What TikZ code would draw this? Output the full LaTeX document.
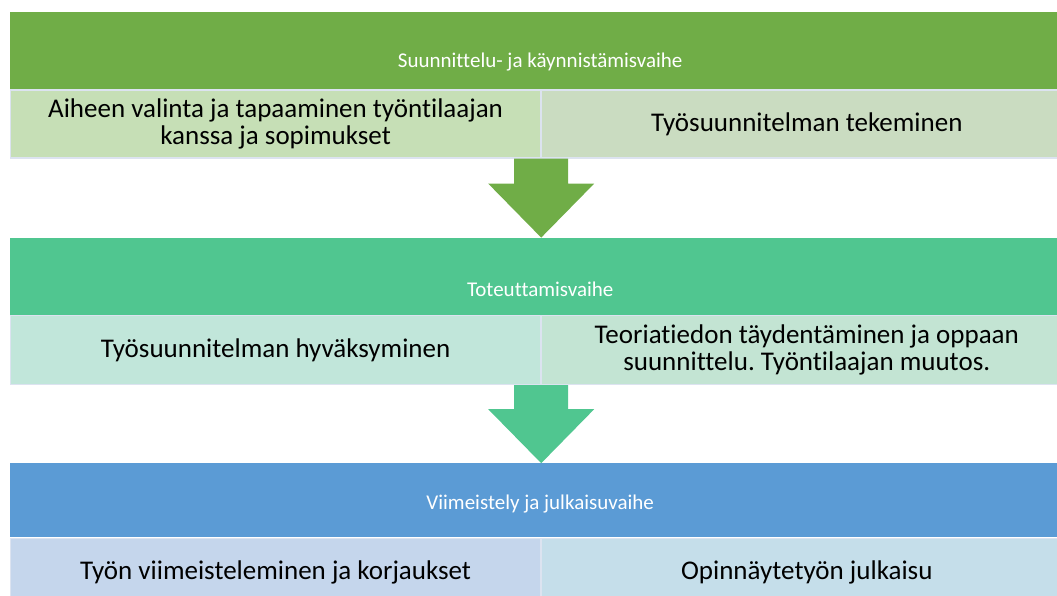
\documentclass[tikz,border=0pt]{standalone}
\usepackage{fontspec}
\setmainfont{Carlito}[Ligatures={NoCommon}]
\frenchspacing
\usetikzlibrary{positioning, calc}

\definecolor{planGreen}{HTML}{70AD47}
\definecolor{planLeft}{HTML}{C6DFB6}
\definecolor{planRight}{HTML}{CADCC1}
\definecolor{buildTeal}{HTML}{50C690}
\definecolor{buildLeft}{HTML}{C1E6DA}
\definecolor{buildRight}{HTML}{C3E4D3}
\definecolor{finBlue}{HTML}{5B9BD5}
\definecolor{finLeft}{HTML}{C5D6EC}
\definecolor{finRight}{HTML}{C5DEEA}
\definecolor{boxEdge}{HTML}{DCE3F0}

\begin{document}
\begin{tikzpicture}[x=1pt, y=1pt,
		band/.style={rectangle, minimum width=1060pt, minimum height=77pt, inner sep=0pt, anchor=north west},
		task/.style={rectangle, draw=boxEdge, line width=1.2pt, minimum width=530pt, minimum height=68pt,
			inner sep=0pt, align=center, font=\fontsize{27}{27}\selectfont, anchor=north west},
		phase/.style={text=white, inner sep=0pt, font=\fontsize{21}{24}\selectfont}]
		\clip (0,0) rectangle (1057,595);
		
		% Vaihe 1: suunnittelu
		\node[band, fill=planGreen] (plan) at (10,583) {};
		\node[phase] (planT) at ($(plan.south)+(0,27)$) {Suunnittelu- ja käynnistämisvaihe};
		\node[task, fill=planLeft] (plan1) at (plan.south west) {Aiheen valinta ja tapaaminen työntilaajan\\kanssa ja sopimukset};
		\node[task, fill=planRight] (plan2) at (plan1.north east) {Työsuunnitelman tekeminen};
		
		% Vaihe 2: toteutus
		\node[band, fill=buildTeal] (build) at ($(plan1.south west)+(0,-79)$) {};
		\node[phase] (buildT) at ($(build.south)+(0,26)$) {Toteuttamisvaihe};
		\node[task, fill=buildLeft, minimum height=69pt] (build1) at (build.south west) {Työsuunnitelman hyväksyminen};
		\node[task, fill=buildRight, minimum height=69pt] (build2) at (build1.north east) {Teoriatiedon täydentäminen ja oppaan\\suunnittelu. Työntilaajan muutos.};
		
		% Vaihe 3: viimeistely
		\node[band, fill=finBlue, minimum height=74pt] (fin) at ($(build1.south west)+(0,-78)$) {};
		\node[phase] (finT) at ($(fin.south)+(0,34)$) {Viimeistely ja julkaisuvaihe};
		\node[task, fill=finLeft] (fin1) at (fin.south west) {Työn viimeisteleminen ja korjaukset};
		\node[task, fill=finRight] (fin2) at (fin1.north east) {Opinnäytetyön julkaisu};
		
		% nuolet vaiheiden välillä
		\fill[planGreen] ($(plan1.south east)+(-27,0)$) -- ++(0,-25) -- ++(-26,0)
		-- (plan1.south east |- build.north) -- ++(53,54) -- ++(-26,0) -- ++(0,25) -- cycle;
		\fill[buildTeal] ($(build1.south east)+(-27,0)$) -- ++(0,-24) -- ++(-26,0)
		-- (build1.south east |- fin.north) -- ++(53,54) -- ++(-26,0) -- ++(0,24) -- cycle;
	\end{tikzpicture}
\end{document}
